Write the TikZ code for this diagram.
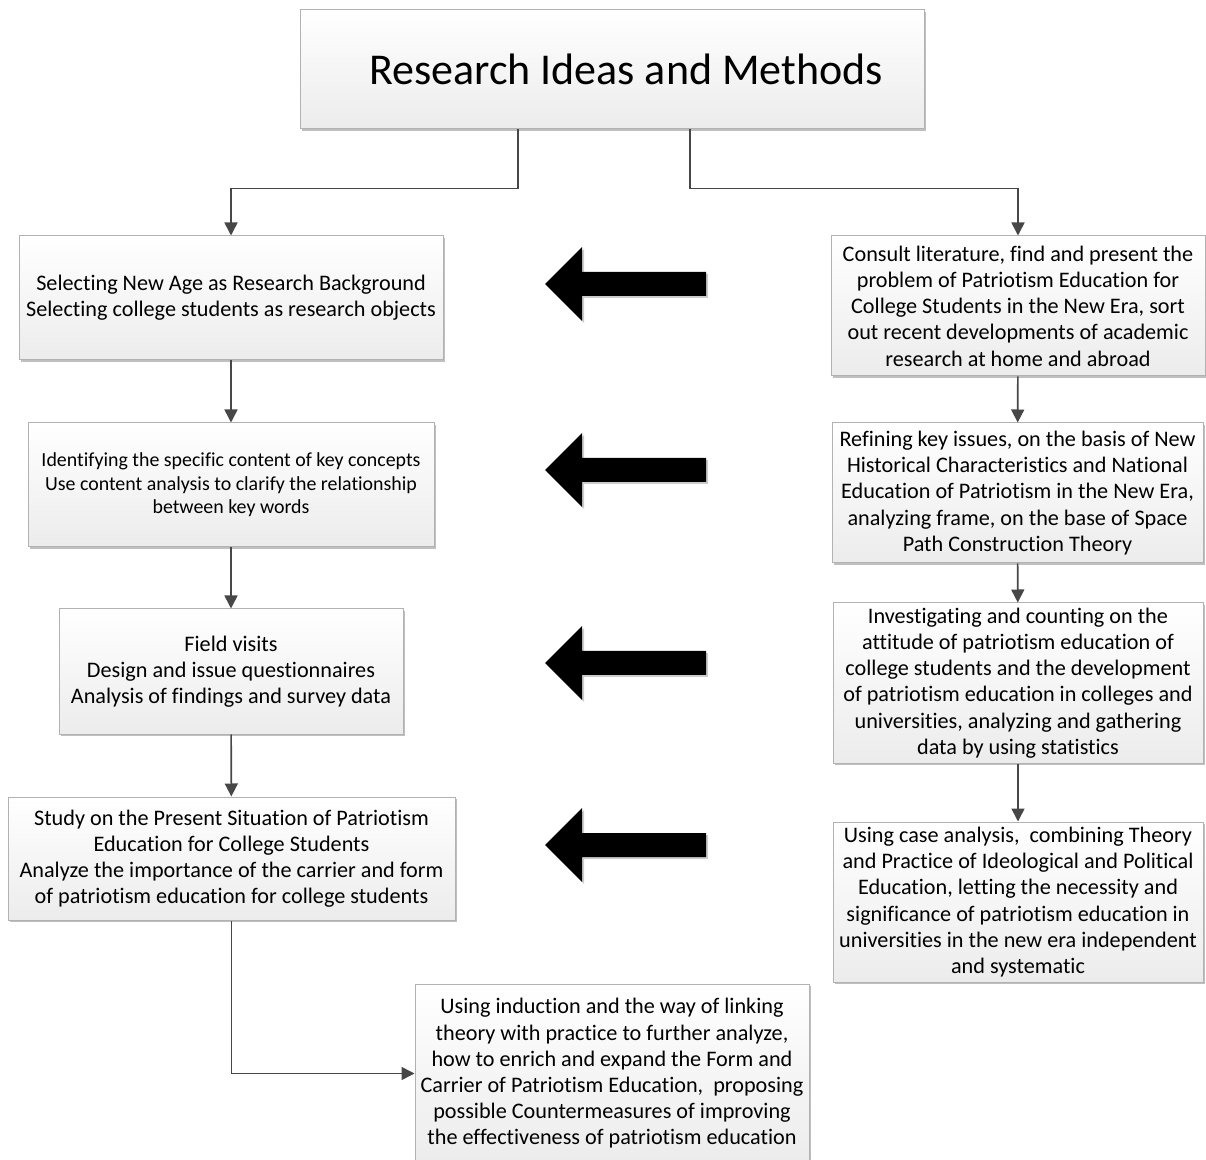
\documentclass[tikz,border=0pt]{standalone}
\usepackage{fontspec}
\setmainfont[Ligatures={NoCommon}]{Carlito}
\usetikzlibrary{arrows.meta,positioning,shadows,calc}

\begin{document}
\begin{tikzpicture}[
    x=0.5pt, y=-0.5pt,
    >={Triangle[length=6.5pt,width=6.5pt]},
    box/.style={draw=gray!60, line width=0.5pt, top color=white, bottom color=gray!15, inner sep=0pt, align=center,
        drop shadow={shadow xshift=1.2pt, shadow yshift=-1.2pt, opacity=0.25, fill=black},
        font=\fontsize{11.1}{13.1}\selectfont},
    smallbox/.style={box, font=\fontsize{9.95}{11.8}\selectfont},
    titlebox/.style={box, font=\fontsize{22}{26}\selectfont},
    conn/.style={->, draw=black!72, line width=0.8pt},
    fatarrow/.style={fill=black, drop shadow={shadow xshift=1pt, shadow yshift=-1pt, opacity=0.2, fill=black}}
]
\useasboundingbox (0,0) rectangle (1206,1160);
% Title
\node[titlebox, minimum width=312pt, minimum height=59.5pt] (title) at (612,69.5) {\hspace*{14pt}Research Ideas and Methods};
% Left column
\node[box, minimum width=212pt, minimum height=62pt] (sel) at (231,298) {Selecting New Age as Research Background\\Selecting college students as research objects};
\node[smallbox, minimum width=203pt, minimum height=62pt] (ident) at (231,485) {Identifying the specific content of key concepts\\Use content analysis to clarify the relationship\\between key words};
\node[box, minimum width=172pt, minimum height=62.5pt] (field) at (231,671.5) {Field visits\\Design and issue questionnaires\\Analysis of findings and survey data};
\node[box, minimum width=223.5pt, minimum height=61.5pt] (study) at (231.5,858.5) {Study on the Present Situation of Patriotism\\Education for College Students\\Analyze the importance of the carrier and form\\of patriotism education for college students};
% Bottom
\node[box, minimum width=197pt, minimum height=89.5pt] (induct) at (612,1073.5) {Using induction and the way of linking\\theory with practice to further analyze,\\how to enrich and expand the Form and\\Carrier of Patriotism Education,~ proposing\\possible Countermeasures of improving\\the effectiveness of patriotism education};
% Right column
\node[box, minimum width=187pt, minimum height=70pt] (lit) at (1018,306) {Consult literature, find and present the\\problem of Patriotism Education for\\College Students in the New Era, sort\\out recent developments of academic\\research at home and abroad};
\node[box, minimum width=185.5pt, minimum height=70pt] (refine) at (1017.5,493) {Refining key issues, on the basis of New\\Historical Characteristics and National\\Education of Patriotism in the New Era,\\analyzing frame, on the base of Space\\Path Construction Theory};
\node[box, minimum width=185pt, minimum height=80pt] (invest) at (1018,683) {Investigating and counting on the\\attitude of patriotism education of\\college students and the development\\of patriotism education in colleges and\\universities, analyzing and gathering\\data by using statistics};
\node[box, minimum width=185pt, minimum height=80pt] (case) at (1018,902) {Using case analysis,~ combining Theory\\and Practice of Ideological and Political\\Education, letting the necessity and\\significance of patriotism education in\\universities in the new era independent\\and systematic};
% Connectors
\draw[conn] ([xshift=-47pt]title.south) -- ++(0,59) -| (sel.north);
\draw[conn] ([xshift=39pt]title.south) -- ++(0,59) -| (lit.north);
\draw[conn] (sel) -- (ident);
\draw[conn] (ident) -- (field);
\draw[conn] (field) -- (study);
\draw[conn] (study.south) |- (induct.west);
\draw[conn] (lit) -- (refine);
\draw[conn] (refine) -- (invest);
\draw[conn] (invest) -- (case);
% Block arrows
\foreach \ay in {284,470,663,845}
  \fill[fatarrow] (545,\ay) -- (582,\ay-37) -- (582,\ay-12) -- (706,\ay-12) -- (706,\ay+12) -- (582,\ay+12) -- (582,\ay+37) -- cycle;
\end{tikzpicture}
\end{document}
